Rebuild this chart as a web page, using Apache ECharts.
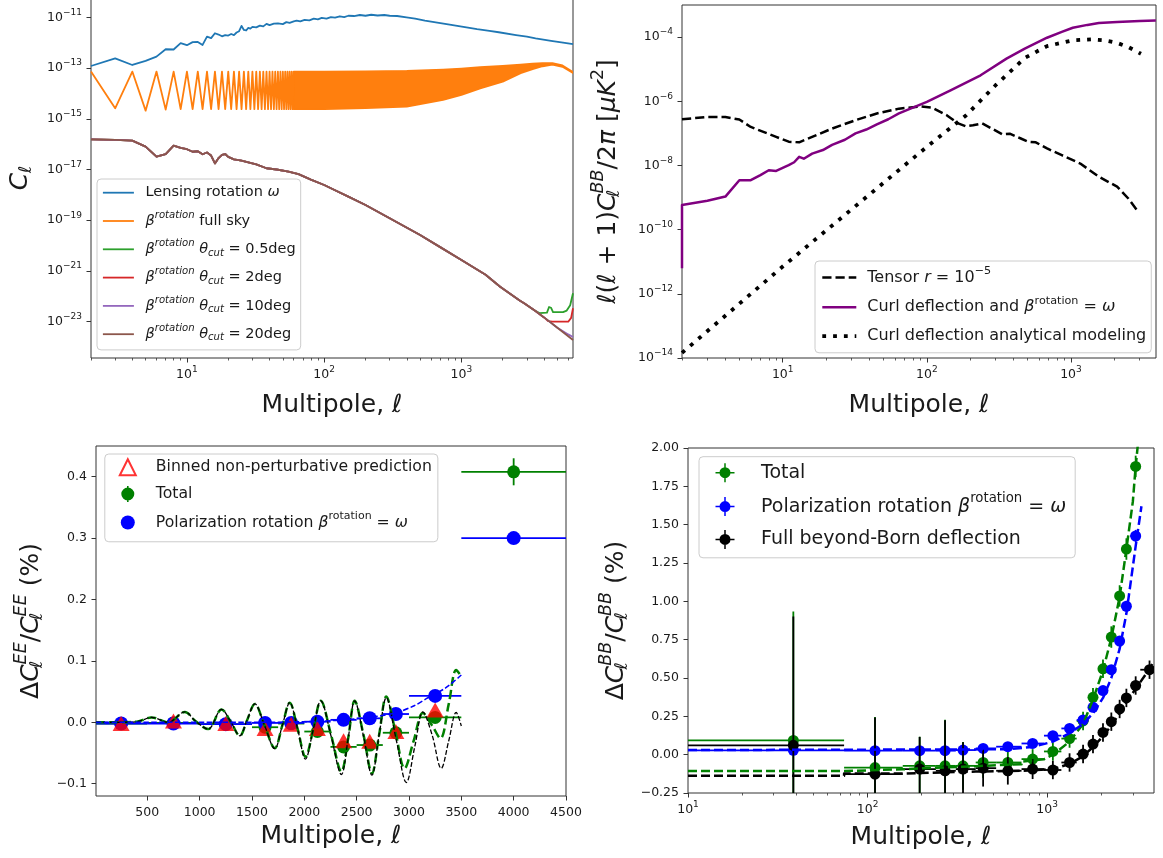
<!DOCTYPE html>
<html><head><meta charset="utf-8">
<script src="https://cdn.jsdelivr.net/npm/echarts@6.0.0/dist/echarts.min.js"></script>
<style>html,body{margin:0;padding:0;background:#fff;}#chart{width:1163px;height:858px;}</style>
</head><body><div id="chart"></div>
<script>
// ================= DATA =================
// ---- Top-left: C_ell (stored as log10 C_ell) ----
const omegaL = [2,3,4,5,6,7,8,9,10,11,12,13,14,15,16,17,18,19,20,21,22,23,24,25,26,27,28,29,30,32,34,36,38,40,43,46,50,53,56,60,63,67,72,78,84,90,96,104,112,120,130,140,150,165,182,200,220,245,274,300,340,398,460,542,650,800,1007,1300,1600,1870,2500,3000,3470,4500,5500,6500];
const omegaLogC = [-12.92,-12.62,-12.88,-12.72,-12.55,-12.26,-12.27,-12.02,-12.10,-11.98,-11.97,-12.09,-11.76,-11.82,-11.63,-11.68,-11.75,-11.70,-11.72,-11.66,-11.70,-11.60,-11.55,-11.34,-11.50,-11.52,-11.42,-11.45,-11.38,-11.40,-11.33,-11.36,-11.26,-11.31,-11.25,-11.24,-11.27,-11.19,-11.22,-11.16,-11.13,-11.16,-11.10,-11.12,-11.05,-11.08,-11.02,-11.05,-10.99,-11.01,-10.96,-10.99,-10.94,-10.95,-10.91,-10.94,-10.90,-10.93,-10.91,-10.94,-10.95,-11.00,-11.05,-11.13,-11.20,-11.28,-11.37,-11.47,-11.54,-11.59,-11.70,-11.76,-11.83,-11.93,-12.00,-12.06];

const zigL = [2,3,4,5,6,7,8,9,10,11,12,13,14,15,16,17,18,19,20,21,22,23,24,25,26,27,28,29,30,31,32,33,34,35,36,37,38,39,40,41,42,43,44,45,46,47,48,49,50,51,52,53,54,55,56,57,58,59,60];
const zigLogC = [-13.14,-14.59,-13.14,-14.68,-13.14,-14.64,-13.14,-14.62,-13.14,-14.62,
  -13.14,-14.62,-13.14,-14.62,-13.14,-14.62,-13.14,-14.62,-13.14,-14.62,
  -13.14,-14.62,-13.14,-14.62,-13.14,-14.62,-13.14,-14.62,-13.14,-14.62,
  -13.14,-14.62,-13.14,-14.62,-13.14,-14.62,-13.14,-14.62,-13.14,-14.62,
  -13.14,-14.62,-13.14,-14.62,-13.14,-14.62,-13.14,-14.62,-13.14,-14.62,
  -13.14,-14.62,-13.14,-14.62,-13.14,-14.62,-13.14,-14.62,-13.14];
const bandL = [60,100,200,400,735,1000,1370,2000,2700,3300,3900,4600,5450,6500];
const bandUpperLogC = [-13.14,-13.14,-13.13,-13.11,-13.06,-13.02,-12.97,-12.92,-12.87,-12.83,-12.81,-12.81,-12.90,-13.16];
const bandLowerLogC = [-14.62,-14.62,-14.58,-14.52,-14.26,-14.06,-13.80,-13.54,-13.20,-13.04,-12.93,-12.87,-12.95,-13.20];

const cutL = [2,3,4,5,6,7,8,9,10,11,12,13,14,15,16,17,18,19,20,22,25,28,32,38,45,55,65,80,100,120,150,200,300,500,700,1000,1500,1914,2673,2864,3400];
const cutLogC = [-15.81,-15.83,-15.86,-16.10,-16.49,-16.39,-16.06,-16.15,-16.20,-16.30,-16.28,-16.40,-16.33,-16.45,-16.76,-16.55,-16.42,-16.39,-16.50,-16.60,-16.65,-16.72,-16.80,-16.95,-17.00,-17.08,-17.18,-17.40,-17.61,-17.82,-18.07,-18.40,-18.92,-19.58,-20.06,-20.57,-21.15,-21.62,-22.17,-22.27,-22.55];
const cut05TailL = [3700,4200,4350,4500,4650,5500,5850,6200,6500];
const cut05TailLogC = [-22.66,-22.64,-22.42,-22.45,-22.62,-22.62,-22.56,-22.35,-21.88];
const cut2TailL = [4000,4300,4600,6000,6300,6500];
const cut2TailLogC = [-22.83,-22.98,-23.00,-23.00,-22.85,-22.47];
const cut10TailL = [4000,5000,6000,6500];
const cut10TailLogC = [-22.83,-23.24,-23.50,-23.60];
const cut20TailL = [4000,5000,6500];
const cut20TailLogC = [-22.83,-23.24,-23.72];

// ---- Top-right: l(l+1)C_l^BB/2pi (stored as log10) ----
const tensorL = [2,3,4,5,6,9,11,13,16,22,32,45,64,91,109,138,165,186,209,242,282,334,376,449,506,570,682,864,1160,1560,2090,2500,2900];
const tensorLogD = [-6.56,-6.49,-6.49,-6.57,-6.80,-7.11,-7.26,-7.28,-7.11,-6.85,-6.59,-6.38,-6.23,-6.16,-6.20,-6.44,-6.69,-6.78,-6.75,-6.69,-6.85,-7.03,-7.01,-7.16,-7.26,-7.28,-7.47,-7.68,-7.94,-8.35,-8.66,-9.03,-9.42];
const curlL = [2,2,3,4,5,6,7,8,9,11,12,13,14,16,19,22,27,32,38,45,54,64,80,100,146,236,357,478,682,864,1030,1300,1560,2090,3000,3880];
const curlLogD = [-11.2,-9.23,-9.10,-8.97,-8.46,-8.46,-8.30,-8.15,-8.17,-7.99,-7.90,-7.73,-7.79,-7.63,-7.52,-7.36,-7.20,-7.00,-6.88,-6.72,-6.56,-6.38,-6.20,-6.02,-5.66,-5.19,-4.67,-4.36,-4.02,-3.84,-3.71,-3.62,-3.56,-3.53,-3.50,-3.48];
const anaL = [2,10,100,186,300,478,682,1030,1380,1700,2090,2500,3060];
const anaLogD = [-13.84,-11.15,-7.42,-6.45,-5.50,-4.65,-4.28,-4.10,-4.07,-4.10,-4.18,-4.31,-4.52];

// ---- Bottom-left: Delta C_l^EE / C_l^EE (%) ----
const eeBinC = [250,750,1250,1625,1875,2125,2375,2625,2875,3250,4000];
const eeBinLo = [2,500,1000,1500,1750,2000,2250,2500,2750,3000,3500];
const eeBinHi = [500,1000,1500,1750,2000,2250,2500,2750,3000,3500,4500];
const binnedEE = [-0.002,0.002,-0.002,-0.010,-0.003,-0.010,-0.030,-0.031,-0.015,0.020];
const totalEE = [-0.002,-0.001,-0.003,-0.008,-0.002,-0.015,-0.040,-0.037,-0.017,0.008,0.408];
const totalEEErr = [0.002,0.002,0.002,0.003,0.003,0.003,0.004,0.004,0.005,0.006,0.022];
const rotEE = [-0.002,-0.002,-0.003,-0.001,-0.001,0.001,0.004,0.0065,0.0135,0.043,0.300];
const rotEEErr = [0,0,0,0,0,0,0,0,0,0,0.002];
const totalEETheoryL = [10,150,400,541,700,859,960,1081,1209,1300,1384,1450,1527,1620,1718,1790,1861,1935,2011,2085,2157,2255,2354,2420,2481,2565,2646,2715,2783,2870,2958,3045,3133,3220,3300,3380,3451,3500];
const totalEETheory = [0,0,0.001,0.008,0,0.017,0.002,-0.011,0.021,0,-0.022,0.002,0.030,-0.005,-0.042,-0.005,0.032,-0.010,-0.056,-0.012,0.035,-0.020,-0.080,-0.025,0.035,-0.020,-0.083,-0.020,0.042,-0.015,-0.075,-0.030,0.015,-0.005,-0.026,0.030,0.085,0.075];
const npEETheoryL = [10,150,400,541,700,859,960,1081,1209,1300,1384,1450,1527,1620,1718,1790,1861,1935,2011,2085,2157,2255,2354,2420,2481,2565,2646,2715,2783,2880,2975,3055,3133,3220,3308,3380,3451,3500];
const npEETheory = [0,0,0.001,0.008,0,0.017,0.002,-0.011,0.021,0,-0.022,0.002,0.030,-0.005,-0.043,-0.005,0.032,-0.010,-0.060,-0.012,0.035,-0.022,-0.085,-0.025,0.035,-0.022,-0.086,-0.020,0.040,-0.030,-0.098,-0.040,0.017,-0.020,-0.075,-0.030,0.016,-0.006];
const rotEETheoryL = [10,1500,2000,2300,2545,2863,3050,3180,3350,3500];
const rotEETheory = [0,0,0.001,0.003,0.0065,0.015,0.027,0.040,0.056,0.077];

// ---- Bottom-right: Delta C_l^BB / C_l^BB (%) ----
const bbBinC = [38.6,110,195,270,340,440,604,830,1076,1333,1585,1800,2046,2277,2533,2762,3111];
const bbBinLo = [2,74,157,240,310,400,520,720,960,1200,1460,1700,1920,2160,2400,2650,2900];
const bbBinHi = [74,157,240,310,400,520,720,960,1200,1460,1700,1920,2160,2400,2650,2900,3300];
const totalBB = [0.093,-0.084,-0.073,-0.073,-0.073,-0.051,-0.051,-0.029,0.021,0.105,0.220,0.374,0.560,0.767,1.035,1.341,1.880];
const totalBBErr = [0.84,0.33,0.19,0.30,0.155,0.10,0.08,0.065,0.06,0.06,0.06,0.06,0.06,0.07,0.07,0.07,0.07];
const rotBB = [0.028,0.026,0.026,0.026,0.030,0.041,0.052,0.073,0.124,0.171,0.226,0.309,0.418,0.554,0.741,0.968,1.426];
const rotBBErr = [0.012,0.012,0.012,0.012,0.012,0.012,0.012,0.012,0.015,0.015,0.02,0.02,0.025,0.03,0.03,0.035,0.04];
const bornBinC = [38.6,110,195,270,340,440,604,830,1076,1333,1585,1800,2046,2277,2533,2762,3111,3716];
const bornBinLo = [2,74,157,240,310,400,520,720,960,1200,1460,1700,1920,2160,2400,2650,2900,3300];
const bornBinHi = [74,157,240,310,400,520,720,960,1200,1460,1700,1920,2160,2400,2650,2900,3300,4100];
const bornBB = [0.061,-0.127,-0.094,-0.105,-0.094,-0.088,-0.105,-0.094,-0.100,-0.051,0.004,0.069,0.145,0.215,0.298,0.370,0.451,0.554];
const bornBBErr = [0.84,0.37,0.21,0.33,0.175,0.12,0.09,0.065,0.06,0.06,0.06,0.06,0.06,0.06,0.06,0.06,0.06,0.06];
const totalBBTheoryL = [10,74,74,157,157,240,240,400,400,720,720,960,1076,1333,1585,1800,2046,2277,2533,2762,3000,3111,3250];
const totalBBTheory = [-0.107,-0.107,-0.095,-0.095,-0.085,-0.085,-0.075,-0.075,-0.062,-0.062,-0.045,-0.030,0.000,0.085,0.200,0.360,0.550,0.760,1.030,1.340,1.650,1.880,2.100];
const rotBBTheoryL = [10,600,830,1076,1333,1585,1800,2046,2277,2533,2762,3111,3350];
const rotBBTheory = [0.030,0.035,0.050,0.085,0.140,0.200,0.270,0.370,0.500,0.690,0.920,1.360,1.620];
const bornBBTheoryL = [10,74,74,157,157,400,720,1076,1333,1585,1800,2046,2277,2533,2762,3111,3716,3883];
const bornBBTheory = [-0.138,-0.138,-0.123,-0.123,-0.110,-0.110,-0.105,-0.095,-0.060,-0.010,0.050,0.120,0.190,0.270,0.340,0.430,0.560,0.600];

// ---- tick values ----
const logMajorTicks = [1,2,3];
const tlMinorL = [2,3,4,5,6,7,8,9,20,30,40,50,60,70,80,90,200,300,400,500,600,700,800,900,2000,3000,4000,5000,6000];
const trMinorL = [2,3,4,5,6,7,8,9,20,30,40,50,60,70,80,90,200,300,400,500,600,700,800,900,2000,3000];
const brMinorL = [20,30,40,50,60,70,80,90,200,300,400,500,600,700,800,900,2000,3000];
const tlYTicks = [-23,-21,-19,-17,-15,-13,-11];
const trYTicks = [-14,-12,-10,-8,-6,-4];
const blXTicks = [500,1000,1500,2000,2500,3000,3500,4000,4500];
const blYTicks = [-0.1,0,0.1,0.2,0.3,0.4];
const brYTicks = [-0.25,0,0.25,0.5,0.75,1,1.25,1.5,1.75,2];

// ================= STYLE / HELPERS =================
const FONT = 'DejaVu Sans';
const TXT = '#1a1a1a';
const AX = '#333333';
const L10 = v => Math.log10(v);
const minus = s => s.replace('-', '\u2212');

function mathRich(F, L, gap) {
  const b = {fontFamily: FONT, color: TXT};
  const s = +(F * 0.7).toFixed(1);
  return {
    n: Object.assign({fontSize: F, lineHeight: L}, b),
    i: Object.assign({fontStyle: 'italic', fontSize: F, lineHeight: L}, b),
    sup: Object.assign({fontSize: s, height: L - 0.8 * F, lineHeight: L - 0.8 * F, verticalAlign: 'top'}, b),
    supi: Object.assign({fontStyle: 'italic', fontSize: s, height: L - 0.8 * F, lineHeight: L - 0.8 * F, verticalAlign: 'top'}, b),
    subi: Object.assign({fontStyle: 'italic', fontSize: s, height: L - 0.5 * F, lineHeight: L - 0.5 * F, verticalAlign: 'bottom'}, b),
    subz: Object.assign({fontStyle: 'italic', fontSize: s, height: L - 0.5 * F, lineHeight: L - 0.5 * F, verticalAlign: 'bottom', width: 0}, b),
    g: {width: gap || 0, fontSize: 8, lineHeight: 8}
  };
}
const TICKSUP = {fontSize: 9, height: 6, lineHeight: 6, verticalAlign: 'top', fontFamily: FONT, color: TXT};
const expLabel = v => '10{sup|' + minus(String(Math.round(v))) + '}';

const NAME_X = {fontFamily: FONT, fontSize: 25, color: TXT, lineHeight: 30, rich: mathRich(25, 30)};
const NAME_Y = {fontFamily: FONT, fontSize: 25, color: TXT, lineHeight: 34, rich: mathRich(25, 34)};
const LBL = {fontFamily: FONT, fontSize: 12.5, lineHeight: 16, color: TXT, rich: {sup: TICKSUP}};

function xMain(gi, min, max, ticks, fmt, gap) {
  return {type: 'value', gridIndex: gi, min, max, position: 'bottom',
    axisLine: {show: false, onZero: false}, splitLine: {show: false},
    axisTick: {show: true, customValues: ticks, length: 4.5, lineStyle: {color: AX, width: 1}},
    axisLabel: Object.assign({customValues: ticks, formatter: fmt, margin: 9}, LBL),
    name: 'Multipole, {i|\u2113}', nameLocation: 'middle', nameGap: gap, nameTextStyle: NAME_X, nameMoveOverlap: false};
}
function xMinor(gi, min, max, ticks) {
  return {type: 'value', gridIndex: gi, min, max, position: 'bottom',
    axisLine: {show: false, onZero: false}, splitLine: {show: false}, axisLabel: {show: false},
    axisTick: {show: true, customValues: ticks, length: 2.5, lineStyle: {color: AX, width: 0.8}}};
}
function yMain(gi, min, max, ticks, fmt, name, gap) {
  return {type: 'value', gridIndex: gi, min, max, position: 'left',
    axisLine: {show: false, onZero: false}, splitLine: {show: false},
    axisTick: {show: true, customValues: ticks, length: 4.5, lineStyle: {color: AX, width: 1}},
    axisLabel: Object.assign({customValues: ticks, formatter: fmt, margin: 9}, LBL),
    name, nameLocation: 'middle', nameRotate: 90, nameGap: gap, nameTextStyle: NAME_Y, nameMoveOverlap: false};
}
const zip = (xs, ys, fx) => xs.map((x, i) => [fx ? fx(x) : x, ys[i]]);

function lineS(name, xi, yi, pts, color, width, dash, extra) {
  return Object.assign({name, type: 'line', xAxisIndex: xi, yAxisIndex: yi, data: pts,
    symbol: 'none', showSymbol: false, clip: true, animation: false,
    itemStyle: {color}, lineStyle: {color, width, type: dash || 'solid', cap: 'butt', join: 'round'}}, extra || {});
}
function errS(name, xi, yi, rows, color, r, lw) {
  return {name, type: 'custom', xAxisIndex: xi, yAxisIndex: yi, clip: true, itemStyle: {color},
    data: rows, encode: {x: 0, y: 1},
    renderItem: function (p, api) {
      const x = api.value(0), y = api.value(1), xl = api.value(2), xh = api.value(3), e = api.value(4);
      const c = api.coord([x, y]), a = api.coord([xl, y]), b = api.coord([xh, y]);
      const ch = [{type: 'line', shape: {x1: a[0], y1: a[1], x2: b[0], y2: b[1]}, style: {stroke: color, lineWidth: lw}}];
      if (e > 0) {
        const t = api.coord([x, y + e]), d = api.coord([x, y - e]);
        ch.push({type: 'line', shape: {x1: t[0], y1: t[1], x2: d[0], y2: d[1]}, style: {stroke: color, lineWidth: lw}});
      }
      ch.push({type: 'circle', shape: {cx: c[0], cy: c[1], r}, style: {fill: color}});
      return {type: 'group', children: ch};
    }};
}

// ================= AXES RANGES =================
const TL = {x: [L10(2), L10(6500)], y: [-24.43, -10.24]};
const TR = {x: [L10(2), 3.59], y: [-14, -3]};
const BL = {x: [10, 4500], y: [-0.12, 0.45]};
const BR = {x: [1, 3.595], y: [-0.25, 2.0]};

const C = {blue: '#1f77b4', orange: '#ff7f0e', green: '#2ca02c', red: '#d62728', purple: '#9467bd', brown: '#8c564b'};

// ================= SERIES =================
const series = [];
// Top-left
series.push(lineS('omega', 0, 0, zip(omegaL, omegaLogC, L10), C.blue, 1.8));
series.push(lineS('fullsky', 0, 0, zip(zigL, zigLogC, L10), C.orange, 1.8));
series.push({name: '_band', type: 'custom', xAxisIndex: 0, yAxisIndex: 0, clip: true, silent: true,
  data: bandL.map((l, i) => [L10(l), bandUpperLogC[i], bandLowerLogC[i]]), encode: {x: 0, y: 1},
  renderItem: function (p, api) {
    if (p.dataIndex !== 0) return null;
    const pts = [];
    for (let i = 0; i < bandL.length; i++) pts.push(api.coord([L10(bandL[i]), bandUpperLogC[i]]));
    for (let i = bandL.length - 1; i >= 0; i--) pts.push(api.coord([L10(bandL[i]), bandLowerLogC[i]]));
    return {type: 'polygon', shape: {points: pts}, style: {fill: C.orange, stroke: C.orange, lineWidth: 1.8, lineJoin: 'round'}};
  }});
series.push(lineS('cut05', 0, 0, zip(cutL.concat(cut05TailL), cutLogC.concat(cut05TailLogC), L10), C.green, 1.8));
series.push(lineS('cut2', 0, 0, zip(cutL.concat(cut2TailL), cutLogC.concat(cut2TailLogC), L10), C.red, 1.8));
series.push(lineS('cut10', 0, 0, zip(cutL.concat(cut10TailL), cutLogC.concat(cut10TailLogC), L10), C.purple, 1.8));
series.push(lineS('cut20', 0, 0, zip(cutL.concat(cut20TailL), cutLogC.concat(cut20TailLogC), L10), C.brown, 1.8));
// Top-right
series.push(lineS('tensor', 2, 1, zip(tensorL, tensorLogD, L10), '#000000', 2.5, [9.2, 4]));
series.push(lineS('curl', 2, 1, zip(curlL, curlLogD, L10), '#800080', 2.5));
series.push(lineS('analytic', 2, 1, zip(anaL, anaLogD, L10), '#000000', 3.8, [3.8, 7]));
// Bottom-left
series.push(lineS('totalEEth', 4, 2, zip(totalEETheoryL, totalEETheory), '#008000', 2.5, [9, 4], {smooth: 0.35}));
series.push(lineS('npEEth', 4, 2, zip(npEETheoryL, npEETheory), '#000000', 1.3, [4.8, 2.1], {smooth: 0.35}));
series.push(lineS('rotEEth', 4, 2, zip(rotEETheoryL, rotEETheory), '#0000ff', 1.5, [5.5, 2.4], {smooth: 0.3}));
series.push({name: 'binned', type: 'scatter', xAxisIndex: 4, yAxisIndex: 2, symbol: 'triangle', symbolSize: [17, 15],
  itemStyle: {color: '#ff0000'}, data: zip(eeBinC.slice(0, binnedEE.length), binnedEE), clip: true});
series.push(errS('totalEE', 4, 2, eeBinC.map((c, i) => [c, totalEE[i], eeBinLo[i], eeBinHi[i], totalEEErr[i]]), '#008000', 6.5, 1.8));
series.push(errS('rotEE', 4, 2, eeBinC.map((c, i) => [c, rotEE[i], eeBinLo[i], eeBinHi[i], rotEEErr[i]]), '#0000ff', 7, 1.8));
// Bottom-right
series.push(lineS('totalBBth', 5, 3, zip(totalBBTheoryL, totalBBTheory, L10), '#008000', 2.5, [9, 4]));
series.push(lineS('rotBBth', 5, 3, zip(rotBBTheoryL, rotBBTheory, L10), '#0000ff', 2.5, [9, 4]));
series.push(lineS('bornBBth', 5, 3, zip(bornBBTheoryL, bornBBTheory, L10), '#000000', 2.5, [9, 4]));
series.push(errS('totalBB', 5, 3, bbBinC.map((c, i) => [L10(c), totalBB[i], L10(bbBinLo[i]), L10(bbBinHi[i]), totalBBErr[i]]), '#008000', 5.5, 1.8));
series.push(errS('rotBB', 5, 3, bbBinC.map((c, i) => [L10(c), rotBB[i], L10(bbBinLo[i]), L10(bbBinHi[i]), rotBBErr[i]]), '#0000ff', 5.5, 1.8));
series.push(errS('bornBB', 5, 3, bornBinC.map((c, i) => [L10(c), bornBB[i], L10(bornBinLo[i]), L10(bornBinHi[i]), bornBBErr[i]]), '#000000', 5.5, 1.8));

// ================= LEGENDS =================
const LEG = {
  omega: 'Lensing rotation {i|\u03c9}',
  fullsky: '{i|\u03b2}{supi|rotation} full sky',
  cut05: '{i|\u03b2}{supi|rotation} {i|\u03b8}{subi|cut} = 0.5deg',
  cut2: '{i|\u03b2}{supi|rotation} {i|\u03b8}{subi|cut} = 2deg',
  cut10: '{i|\u03b2}{supi|rotation} {i|\u03b8}{subi|cut} = 10deg',
  cut20: '{i|\u03b2}{supi|rotation} {i|\u03b8}{subi|cut} = 20deg',
  tensor: 'Tensor {i|r} = 10{sup|\u22125}',
  curl: 'Curl deflection and {i|\u03b2}{sup|rotation} = {i|\u03c9}',
  analytic: 'Curl deflection analytical modeling',
  binned: 'Binned non-perturbative prediction',
  totalEE: 'Total',
  rotEE: 'Polarization rotation {i|\u03b2}{sup|rotation} = {i|\u03c9}',
  totalBB: 'Total',
  rotBB: 'Polarization rotation {i|\u03b2}{sup|rotation} = {i|\u03c9}',
  bornBB: 'Full beyond-Born deflection'
};
const legFmt = n => '{g| }' + LEG[n];
const legBox = {orient: 'vertical', backgroundColor: 'rgba(255,255,255,0.8)', borderColor: '#cccccc', borderWidth: 1, borderRadius: 4, selectedMode: false};
const ICON_EE_TOTAL = 'path://M0 8M16 8M7.2 0H8.8V16H7.2Z M14.5 8A6.5 6.5 0 1 1 1.5 8A6.5 6.5 0 1 1 14.5 8Z';
const ICON_EE_ROT = 'path://M0 0M16 16M15 8A7 7 0 1 1 1 8A7 7 0 1 1 15 8Z';
const ICON_BB = 'path://M0 8.75H19V10.25H0Z M8.75 0H10.25V19H8.75Z M15 9.5A5.5 5.5 0 1 1 4 9.5A5.5 5.5 0 1 1 15 9.5Z';

const legends = [
  Object.assign({left: 97, top: 179, padding: [2.7, 5, 4.7, 5], itemWidth: 31, itemHeight: 2, itemGap: 6.3,
    data: ['omega', 'fullsky', 'cut05', 'cut2', 'cut10', 'cut20'], formatter: legFmt,
    itemStyle: {opacity: 0}, lineStyle: {width: 'inherit'},
    textStyle: {fontFamily: FONT, fontSize: 14.5, lineHeight: 22, color: TXT, rich: mathRich(14.5, 22, 6.6)}}, legBox),
  Object.assign({left: 815, top: 261, padding: [4.7, 5, 5.7, 5.4], itemWidth: 34, itemHeight: 2, itemGap: 6.8,
    data: ['tensor', 'curl', 'analytic'], formatter: legFmt,
    itemStyle: {opacity: 0}, lineStyle: {width: 'inherit'},
    textStyle: {fontFamily: FONT, fontSize: 16, lineHeight: 22, color: TXT, rich: mathRich(16, 22, 6)}}, legBox),
  Object.assign({left: 104.8, top: 454, padding: [3.3, 6, 9.3, 14], itemWidth: 16, itemHeight: 16, itemGap: 6.7,
    data: [{name: 'binned', icon: 'emptyTriangle'}, {name: 'totalEE', icon: ICON_EE_TOTAL}, {name: 'rotEE', icon: ICON_EE_ROT}],
    formatter: legFmt,
    textStyle: {fontFamily: FONT, fontSize: 15.7, lineHeight: 20, color: TXT, rich: mathRich(15.7, 20, 15)}}, legBox),
  Object.assign({left: 699, top: 456.7, padding: [3, 9, 5.4, 16.5], itemWidth: 19, itemHeight: 19, itemGap: 6.8,
    data: [{name: 'totalBB', icon: ICON_BB}, {name: 'rotBB', icon: ICON_BB}, {name: 'bornBB', icon: ICON_BB}],
    formatter: legFmt,
    textStyle: {fontFamily: FONT, fontSize: 19, lineHeight: 26, color: TXT, rich: mathRich(19, 26, 21.5)}}, legBox)
];

// ================= OPTION =================
const gridBase = {show: true, borderColor: AX, borderWidth: 1, backgroundColor: 'transparent', containLabel: false, outerBoundsMode: 'none'};
const option = {
  animation: false,
  backgroundColor: '#ffffff',
  textStyle: {fontFamily: FONT},
  grid: [
    Object.assign({left: 91, top: -2, width: 482, height: 360}, gridBase),
    Object.assign({left: 682, top: 5, width: 474, height: 353}, gridBase),
    Object.assign({left: 96, top: 446, width: 470, height: 350}, gridBase),
    Object.assign({left: 688, top: 448, width: 466, height: 345}, gridBase)
  ],
  xAxis: [
    xMain(0, TL.x[0], TL.x[1], logMajorTicks, expLabel, 32),
    xMinor(0, TL.x[0], TL.x[1], tlMinorL.map(L10)),
    xMain(1, TR.x[0], TR.x[1], logMajorTicks, expLabel, 32),
    xMinor(1, TR.x[0], TR.x[1], trMinorL.map(L10)),
    xMain(2, BL.x[0], BL.x[1], blXTicks, v => String(Math.round(v)), 25.7),
    xMain(3, BR.x[0], BR.x[1], logMajorTicks, expLabel, 29.7),
    xMinor(3, BR.x[0], BR.x[1], brMinorL.map(L10))
  ],
  yAxis: [
    yMain(0, TL.y[0], TL.y[1], tlYTicks, expLabel, '{i|C}{subi|\u2113}', 54),
    yMain(1, TR.y[0], TR.y[1], trYTicks, expLabel,
      '{i|\u2113}({i|\u2113} + 1){i|C}{subz|\u2113}{supi|BB}/2{i|\u03c0} [{i|\u03bcK}{sup|2}]', 57),
    yMain(2, BL.y[0], BL.y[1], blYTicks, v => minus((Math.round(v * 10) / 10).toFixed(1)),
      '\u0394{i|C}{subz|\u2113}{supi|EE}/{i|C}{subz|\u2113}{supi|EE} (%)', 47.7),
    yMain(3, BR.y[0], BR.y[1], brYTicks, v => minus((Math.round(v * 100) / 100).toFixed(2)),
      '\u0394{i|C}{subz|\u2113}{supi|BB}/{i|C}{subz|\u2113}{supi|BB} (%)', 54.6)
  ],
  legend: legends,
  series: series
};
const chart = echarts.init(document.getElementById('chart'), null, {renderer: 'canvas'});
chart.setOption(option);
</script></body></html>
